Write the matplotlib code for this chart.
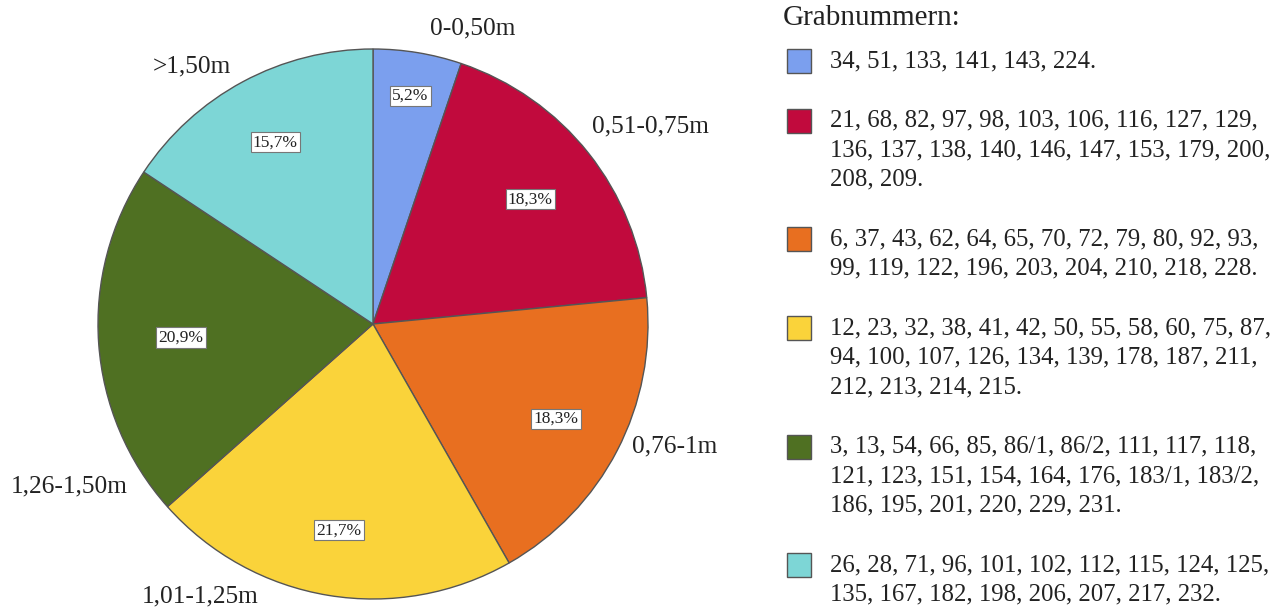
import numpy as np
import matplotlib.pyplot as plt
from matplotlib.patches import Rectangle

plt.rcParams['font.family'] = ['Liberation Serif', 'DejaVu Serif']

# Daten
kategorien = ["0-0,50m", "0,51-0,75m", "0,76-1m", "1,01-1,25m", "1,26-1,50m", ">1,50m"]
prozent = [5.2, 18.3, 18.3, 21.7, 20.9, 15.7]
farben = ["#7b9fee", "#c10a3d", "#e86f20", "#fad33a", "#4f7022", "#7dd6d6"]
grabnummern = [
    "34, 51, 133, 141, 143, 224.",
    "21, 68, 82, 97, 98, 103, 106, 116, 127, 129,\n136, 137, 138, 140, 146, 147, 153, 179, 200,\n208, 209.",
    "6, 37, 43, 62, 64, 65, 70, 72, 79, 80, 92, 93,\n99, 119, 122, 196, 203, 204, 210, 218, 228.",
    "12, 23, 32, 38, 41, 42, 50, 55, 58, 60, 75, 87,\n94, 100, 107, 126, 134, 139, 178, 187, 211,\n212, 213, 214, 215.",
    "3, 13, 54, 66, 85, 86/1, 86/2, 111, 117, 118,\n121, 123, 151, 154, 164, 176, 183/1, 183/2,\n186, 195, 201, 220, 229, 231.",
    "26, 28, 71, 96, 101, 102, 112, 115, 124, 125,\n135, 167, 182, 198, 206, 207, 217, 232.",
]

# Positionen der Beschriftungen (Datenkoordinaten, Radius 1)
label_pos = [(0.364, 1.076, 'center'), (0.796, 0.72, 'left'), (0.942, -0.444, 'left'),
             (-0.629, -0.989, 'center'), (-0.891, -0.589, 'right'), (-0.658, 0.938, 'center')]
pct_r = [0.84, 0.73, 0.75, 0.76, 0.70, 0.75]

W, H = 1286, 610
fig = plt.figure(figsize=(W / 100, H / 100), dpi=100)

cx, cy, R = 373, 324, 275
ax = fig.add_axes([(cx - R) / W, (H - cy - R) / H, 2 * R / W, 2 * R / H])
wedges, _ = ax.pie(prozent, colors=farben, startangle=90, counterclock=False,
                   radius=1, wedgeprops=dict(edgecolor='#555555', linewidth=1.0))
ax.set_xlim(-1, 1)
ax.set_ylim(-1, 1)
ax.set_aspect('equal')
ax.axis('off')

for w, p, r in zip(wedges, prozent, pct_r):
    ang = np.deg2rad((w.theta1 + w.theta2) / 2)
    ax.text(r * np.cos(ang), r * np.sin(ang), ("%.1f%%" % p).replace('.', ','),
            ha='center', va='center', fontsize=12.5, color='#222222',
            bbox=dict(boxstyle='square,pad=0.12', fc='white', ec='#777777', lw=0.8))

for name, (x, y, ha) in zip(kategorien, label_pos):
    ax.text(x, y, name, ha=ha, va='center', fontsize=18.3, color='#222222')

# Legende
fig.text(783 / W, 1 - 18 / H, "Grabnummern:", ha='left', va='center', fontsize=21, color='#222222')
y = 61
line_h = 29.5
for farbe, txt in zip(farben, grabnummern):
    fig.patches.append(Rectangle(((787) / W, 1 - (y + 12) / H), 24 / W, 24 / H,
                                 transform=fig.transFigure, fc=farbe, ec='#555555', lw=1.0))
    zeilen = txt.split('\n')
    for i, z in enumerate(zeilen):
        fig.text(830 / W, 1 - (y + i * line_h) / H, z, ha='left', va='center',
                 fontsize=17.8, color='#222222')
    y += len(zeilen) * line_h + 30

fig.savefig("out.png", dpi=100)
